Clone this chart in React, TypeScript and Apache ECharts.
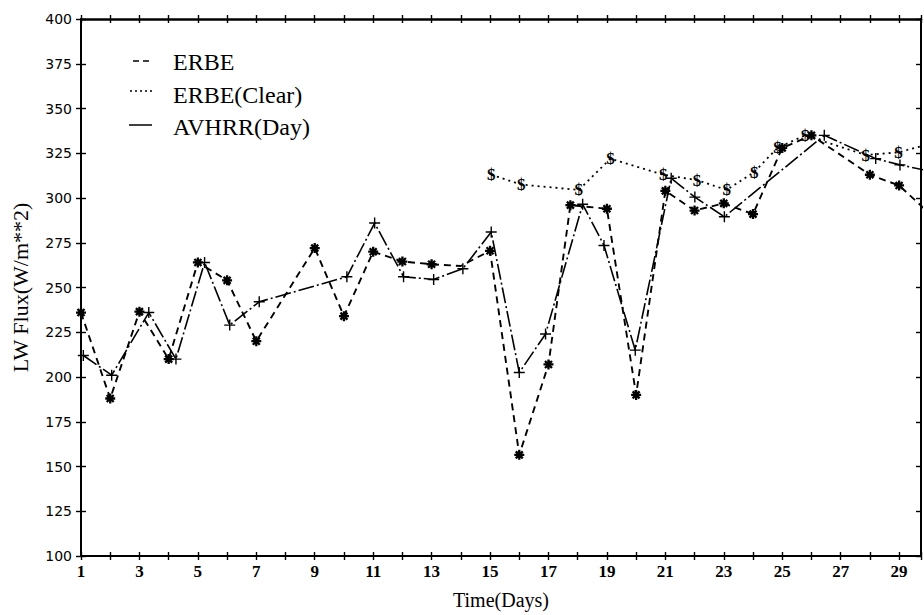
import React, { useEffect, useRef } from "react";
import * as echarts from "echarts";

// ERBE (dashed, asterisk markers)
const erbeDays = [1, 2, 3, 4, 5, 6, 7, 9, 10, 11, 12, 13, 14, 15, 16, 17, 17.75, 19, 20, 21, 22, 23, 24, 25, 26, 28, 29, 30];
const erbeFlux = [236, 188, 236.5, 210, 264, 254, 220, 272, 234, 270, 264.5, 263, 262, 270.5, 156.5, 207, 296, 294, 190, 304, 293, 297, 291, 328, 335, 313, 307, 292];
const erbeNoMarkerDays = [14];

// ERBE(Clear) (dotted, "$" markers)
const clearDays = [15.04, 16.07, 18.04, 19.12, 20.93, 22.08, 23.1, 24.04, 24.84, 25.78, 27.86, 28.98, 30];
const clearFlux = [313, 307.5, 304.5, 322, 313, 310, 304.5, 314.5, 328, 335, 324, 325.5, 330];

// AVHRR(Day) (long dash-dot, "+" markers)
const avhrrDays = [1.08, 2.05, 3.32, 4.25, 5.23, 6.09, 7.1, 10.1, 11.05, 12.04, 13.07, 14.07, 15.04, 16.0, 16.9, 18.17, 18.9, 19.97, 21.2, 22.01, 23.02, 26.44, 28.2, 29.03, 30.05];
const avhrrFlux = [212, 201, 236, 210, 264, 229, 242, 256, 286, 256, 254.5, 260.5, 281, 202.5, 224, 296.5, 273.5, 215, 311, 300.5, 289.5, 335, 322, 318.5, 315];

const legendNames = ["ERBE", "ERBE(Clear)", "AVHRR(Day)"];
const xTitle = "Time(Days)";
const yTitle = "LW Flux(W/m**2)";

const X_MIN = 1;
const X_MAX = 29.75;
const Y_MIN = 100;
const Y_MAX = 400;

const ASTERISK = "path://M5 0L5 10M0 5L10 5M1.5 1.5L8.5 8.5M8.5 1.5L1.5 8.5";
const PLUS = "path://M5 0L5 10M0 5L10 5";

const SERIF = '"Liberation Serif", "DejaVu Serif", serif';

export default function App() {
  const ref = useRef<HTMLDivElement>(null);

  useEffect(() => {
    if (!ref.current) return;
    const chart = echarts.init(ref.current, undefined, { renderer: "svg" });

    const erbeData = erbeDays.map((d, i) =>
      erbeNoMarkerDays.includes(d)
        ? { value: [d, erbeFlux[i]], symbol: "none" }
        : { value: [d, erbeFlux[i]] }
    );
    const clearData = clearDays.map((d, i) => [d, clearFlux[i]]);
    const avhrrData = avhrrDays.map((d, i) => [d, avhrrFlux[i]]);

    const baseX = {
      type: "value",
      min: X_MIN,
      max: X_MAX,
      interval: 1,
      splitLine: { show: false },
    };
    const baseY = {
      type: "value",
      min: Y_MIN,
      max: Y_MAX,
      interval: 25,
      splitLine: { show: false },
    };
    const axLine = (w: number) => ({ show: true, lineStyle: { color: "#000", width: w } });
    const ticks = (inside: boolean, len = 4) => ({
      show: true,
      inside,
      length: len,
      lineStyle: { color: "#000", width: 1.4 },
    });

    const option: any = {
      animation: false,
      backgroundColor: "#fff",
      grid: { left: 81, right: 2, top: 19, bottom: 59, containLabel: false },
      xAxis: [
        {
          ...baseX,
          position: "bottom",
          axisLine: axLine(2),
          axisTick: ticks(false),
          axisLabel: {
            color: "#000",
            fontFamily: SERIF,
            fontWeight: "bold",
            fontSize: 17,
            margin: 7,
            formatter: (v: number) =>
              Number.isInteger(v) && Math.abs(v % 2) === 1 ? String(v) : "",
          },
          name: xTitle,
          nameLocation: "middle",
          nameGap: 34,
          nameTextStyle: { color: "#000", fontFamily: SERIF, fontSize: 20 },
        },
        { ...baseX, position: "bottom", axisLine: { show: false }, axisTick: ticks(true), axisLabel: { show: false } },
        { ...baseX, position: "top", axisLine: axLine(2.5), axisTick: ticks(false), axisLabel: { show: false } },
        { ...baseX, position: "top", axisLine: { show: false }, axisTick: ticks(true), axisLabel: { show: false } },
      ],
      yAxis: [
        {
          ...baseY,
          position: "left",
          axisLine: axLine(2),
          axisTick: ticks(false, 5),
          axisLabel: {
            color: "#000",
            fontFamily: '"DejaVu Sans", sans-serif',
            fontSize: 14,
            margin: 9,
          },
          name: yTitle,
          nameLocation: "middle",
          nameGap: 50,
          nameTextStyle: { color: "#000", fontFamily: SERIF, fontSize: 22 },
        },
        { ...baseY, position: "left", axisLine: { show: false }, axisTick: ticks(true, 5), axisLabel: { show: false } },
        { ...baseY, position: "right", axisLine: axLine(2), axisTick: ticks(true, 5), axisLabel: { show: false } },
      ],
      series: [
        {
          name: legendNames[0],
          type: "line",
          data: erbeData,
          symbol: ASTERISK,
          symbolSize: 10,
          clip: true,
          lineStyle: { color: "#000", width: 1.9, type: [7, 5] },
          itemStyle: { color: "#000", borderColor: "#000", borderWidth: 2.3 },
          z: 3,
        },
        {
          name: legendNames[1],
          type: "line",
          data: clearData,
          symbol: "circle",
          symbolSize: 2,
          clip: true,
          lineStyle: { color: "#000", width: 1.8, type: [2, 4] },
          itemStyle: { color: "rgba(0,0,0,0)", borderWidth: 0 },
          label: {
            show: true,
            position: "inside",
            formatter: "$",
            color: "#000",
            textBorderWidth: 0,
            textBorderColor: "transparent",
            fontFamily: SERIF,
            fontWeight: "bold",
            fontSize: 17,
          },
          z: 2,
        },
        {
          name: legendNames[2],
          type: "line",
          data: avhrrData,
          symbol: PLUS,
          symbolSize: 11,
          clip: true,
          lineStyle: { color: "#000", width: 1.6, type: [16, 3, 2, 3] },
          itemStyle: { color: "#000", borderColor: "#000", borderWidth: 1.4 },
          z: 4,
        },
      ],
      graphic: [
        { type: "line", shape: { x1: 133, y1: 61, x2: 152, y2: 61 }, style: { stroke: "#000", lineWidth: 1.5, lineDash: [6, 4] } },
        { type: "text", x: 173, y: 62, style: { text: legendNames[0], fontFamily: SERIF, fontSize: 24, fill: "#000", verticalAlign: "middle" } },
        { type: "line", shape: { x1: 130, y1: 91, x2: 152, y2: 91 }, style: { stroke: "#000", lineWidth: 1.3, lineDash: [2, 3] } },
        { type: "text", x: 173, y: 95, style: { text: legendNames[1], fontFamily: SERIF, fontSize: 24, fill: "#000", verticalAlign: "middle" } },
        { type: "line", shape: { x1: 129, y1: 125, x2: 152, y2: 125 }, style: { stroke: "#000", lineWidth: 1.5 } },
        { type: "text", x: 173, y: 127, style: { text: legendNames[2], fontFamily: SERIF, fontSize: 24, fill: "#000", verticalAlign: "middle" } },
      ],
    };

    chart.setOption(option);
    return () => chart.dispose();
  }, []);

  return (
    <div
      ref={ref}
      style={{ position: "absolute", left: 0, top: 0, width: 924, height: 615, background: "#fff" }}
    />
  );
}
